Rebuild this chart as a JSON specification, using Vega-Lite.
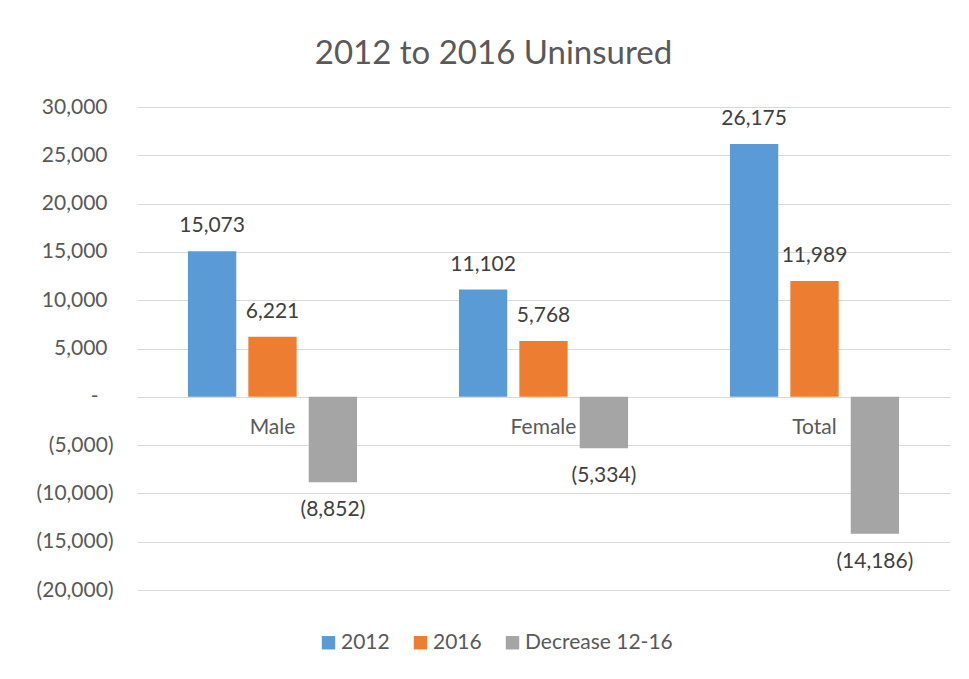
{
  "$schema": "https://vega.github.io/schema/vega-lite/v6.json",
  "width": 813,
  "height": 483,
  "autosize": {"type": "none"},
  "padding": {"left": 137, "top": 107, "right": 19, "bottom": 89},
  "background": "white",
  "config": {"font": "Lato", "view": {"stroke": null}},
  "title": {"text": "2012 to 2016 Uninsured", "fontSize": 33, "fontWeight": "normal", "color": "#595959", "dx": -50, "offset": 25, "anchor": "middle"},
  "data": {"values": [
    {"group": "Male", "series": "2012", "value": 15073, "label": "15,073"},
    {"group": "Male", "series": "2016", "value": 6221, "label": "6,221"},
    {"group": "Male", "series": "Decrease 12-16", "value": -8852, "label": "(8,852)"},
    {"group": "Female", "series": "2012", "value": 11102, "label": "11,102"},
    {"group": "Female", "series": "2016", "value": 5768, "label": "5,768"},
    {"group": "Female", "series": "Decrease 12-16", "value": -5334, "label": "(5,334)"},
    {"group": "Total", "series": "2012", "value": 26175, "label": "26,175"},
    {"group": "Total", "series": "2016", "value": 11989, "label": "11,989"},
    {"group": "Total", "series": "Decrease 12-16", "value": -14186, "label": "(14,186)"}
  ]},
  "layer": [
    {
      "mark": {"type": "bar"},
      "encoding": {
        "x": {"field": "group", "type": "nominal", "sort": ["Male", "Female", "Total"], "scale": {"paddingInner": 0.376, "paddingOuter": 0.188}, "axis": null},
        "xOffset": {"field": "series", "type": "nominal", "sort": ["2012", "2016", "Decrease 12-16"], "scale": {"paddingInner": 0.2, "paddingOuter": 0}},
        "y": {"field": "value", "type": "quantitative", "scale": {"domain": [-20000, 30000], "nice": false, "zero": false},
          "axis": {"title": null, "values": [-20000, -15000, -10000, -5000, 0, 5000, 10000, 15000, 20000, 25000, 30000],
            "labelExpr": "datum.value == 0 ? '-' : datum.value < 0 ? '(' + format(-datum.value, ',') + ')' : format(datum.value, ',')",
            "domain": false, "ticks": false, "grid": true, "gridColor": "#D9D9D9", "gridWidth": 1,
            "labelFontSize": 21, "labelColor": "#595959",
            "labelPadding": {"condition": [{"test": "datum.value < 0", "value": 24}, {"test": "datum.value == 0", "value": 39}], "value": 30}}},
        "color": {"field": "series", "type": "nominal", "sort": ["2012", "2016", "Decrease 12-16"],
          "scale": {"domain": ["2012", "2016", "Decrease 12-16"], "range": ["#5B9BD5", "#ED7D31", "#A5A5A5"]},
          "legend": {"title": null, "orient": "none", "legendX": 181, "legendY": 525, "direction": "horizontal",
            "symbolType": "square", "symbolSize": 180, "symbolStrokeWidth": 0, "symbolOpacity": 1,
            "labelFontSize": 21, "labelColor": "#595959", "labelOffset": 2, "columnPadding": 20}}
      }
    },
    {
      "transform": [{"filter": "datum.value >= 0"}],
      "mark": {"type": "text", "baseline": "bottom", "dy": -15, "fontSize": 21, "color": "#404040"},
      "encoding": {
        "x": {"field": "group", "type": "nominal", "sort": ["Male", "Female", "Total"]},
        "xOffset": {"field": "series", "type": "nominal", "sort": ["2012", "2016", "Decrease 12-16"]},
        "y": {"field": "value", "type": "quantitative"},
        "text": {"field": "label"}
      }
    },
    {
      "transform": [{"filter": "datum.value < 0"}],
      "mark": {"type": "text", "baseline": "top", "dy": 17, "fontSize": 21, "color": "#404040"},
      "encoding": {
        "x": {"field": "group", "type": "nominal", "sort": ["Male", "Female", "Total"]},
        "xOffset": {"field": "series", "type": "nominal", "sort": ["2012", "2016", "Decrease 12-16"]},
        "y": {"field": "value", "type": "quantitative"},
        "text": {"field": "label"}
      }
    },
    {
      "transform": [{"filter": "datum.series == '2012'"}],
      "mark": {"type": "text", "baseline": "middle", "dy": 31, "fontSize": 21, "color": "#595959"},
      "encoding": {
        "x": {"field": "group", "type": "nominal", "sort": ["Male", "Female", "Total"]},
        "y": {"datum": 0, "type": "quantitative"},
        "text": {"field": "group"}
      }
    }
  ]
}
